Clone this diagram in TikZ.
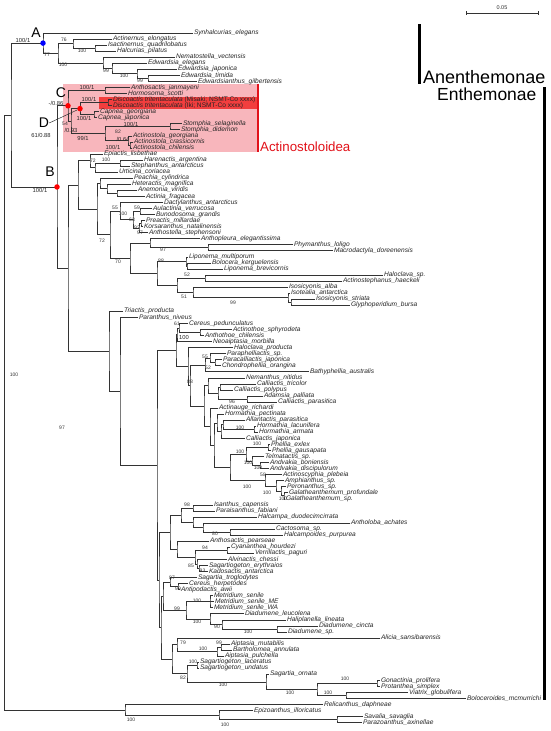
\documentclass[tikz,border=0pt]{standalone}
\usepackage{fontspec}
\setmainfont{Liberation Sans}
\usetikzlibrary{calc}
\definecolor{cladepink}{RGB}{248,182,188}
\definecolor{discored}{RGB}{242,62,62}
\definecolor{barred}{RGB}{226,18,26}
\tikzset{
         mybranch/.style={draw=black!80, line width=.7pt},
         mytip/.style={anchor=west, inner sep=.8pt, text=black!85, text height=4.7pt, text depth=1.4pt, font=\fontsize{6.6}{7}\selectfont\itshape},
         mysupp/.style={inner sep=0pt, text=black!80, font=\fontsize{5}{5}\selectfont},
         mypp/.style={inner sep=0pt, text=black!85, font=\fontsize{5.8}{6}\selectfont},
         myletter/.style={inner sep=0pt, font=\fontsize{14}{14}\selectfont},
         mygroup/.style={anchor=base west, inner sep=0pt, font=\fontsize{18}{18}\selectfont},
         mydot/.style={circle, inner sep=0pt, minimum size=5.5pt}
      }
% clade: name, x, first child, last child
\newcommand\clade[4]{%
  \path let \p1=(#3), \p2=(#4) in coordinate (#1) at (#2pt,{0.5*(\y1+\y2)});
  \draw[mybranch] (#3) -| (#1) |- (#4);}

\begin{document}
\begin{tikzpicture}[x=1pt, y=-1pt]
\fill[white] (0,0) rectangle (550,731);
\useasboundingbox (0,0) rectangle (550,731);
% Actinostoloidea box
\fill[cladepink] (63,84) rectangle (258,152);
\fill[discored] (99,97) rectangle (258,109);
\draw[barred, line width=2.5pt] (258,84) -- (258,152);
% tips
\foreach \i/\tx/\tn in {
 1/193/Synhalcurias\_elegans, 2/112/Actinernus\_elongatus, 3/107/Isactinernus\_quadrilobatus,
 4/116/Halcurias\_pilatus, 5/175/Nematostella\_vectensis, 6/147/Edwardsia\_elegans,
 7/177/Edwardsia\_japonica, 8/180/Edwardsia\_timida, 9/197/Edwardsianthus\_gilbertensis,
 10/130/Anthosactis\_janmayeni, 11/127/Hormosoma\_scotti,
 12/112/Discoactis tritentaculata {\upshape (Misaki; NSMT-Co xxxx)},
 13/112/Discoactis tritentaculata {\upshape (Iki; NSMT-Co xxxx)},
 14/99/Capnea\_georgiana, 15/97/Capnea\_japonica, 16/182/Stomphia\_selaginella,
 17/180/Stomphia\_didemon, 18/132/Actinostola\_georgiana, 19/133/Actinostola\_crassicornis,
 20/132/Actinostola\_chilensis, 21/103/Epiactis\_lisbethae, 22/143/Harenactis\_argentina,
 23/130/Stephanthus\_antarcticus, 24/118/Urticina\_coriacea, 25/133/Peachia\_cylindrica,
 26/131/Heteractis\_magnifica, 27/137/Anemonia\_viridis, 28/145/Actinia\_fragacea,
 29/163/Dactylanthus\_antarcticus, 30/152/Aulactinia\_verrucosa, 31/155/Bunodosoma\_grandis,
 32/145/Preactis\_millardae, 33/143/Korsaranthus\_natalinensis, 34/148/Anthostella\_stephensoni,
 35/200/Anthopleura\_elegantissima, 36/293/Phymanthus\_loligo, 37/333/Macrodactyla\_doreenensis,
 38/188/Liponema\_multiporum, 39/211/Bolocera\_kerguelensis, 40/223/Liponema\_brevicornis,
 41/383/Haloclava\_sp., 42/342/Actinostephanus\_haeckeli, 43/288/Isosicyonis\_alba,
 44/290/Isotealia\_antarctica, 45/315/Isosicyonis\_striata, 46/350/Glyphoperidium\_bursa,
 47/123/Triactis\_producta, 48/138/Paranthus\_niveus, 49/188/Cereus\_pedunculatus,
 50/232/Actinothoe\_sphyrodeta, 51/204/Anthothoe\_chilensis, 52/212/Neoaiptasia\_morbilla,
 53/233/Haloclava\_producta, 54/226/Paraphelliactis\_sp., 55/222/Paracalliactis\_japonica,
 56/221/Chondrophellia\_orangina, 57/309/Bathyphellia\_australis, 58/245/Nemanthus\_nitidus,
 59/256/Calliactis\_tricolor, 60/233/Calliactis\_polypus, 61/263/Adamsia\_palliata,
 62/277/Calliactis\_parasitica, 63/218/Actinauge\_richardi, 64/224/Hormathia\_pectinata,
 65/245/Allantactis\_parasitica, 66/256/Hormathia\_lacunifera, 67/258/Hormathia\_armata,
 68/245/Calliactis\_japonica, 69/270/Phellia\_exlex, 70/271/Phellia\_gausapata,
 71/264/Telmatactis\_sp., 72/269/Andvakia\_boniensis, 73/269/Andvakia\_discipulorum,
 74/282/Actinoscyphia\_plebeia, 75/284/Amphianthus\_sp., 76/286/Peronanthus\_sp.,
 77/288/Galatheanthemum\_profundale, 78/285/Galatheanthemum\_sp., 79/213/Isanthus\_capensis,
 80/215/Paraisanthus\_fabiani, 81/257/Halcampa\_duodecimcirrata, 82/350/Antholoba\_achates,
 83/275/Cactosoma\_sp., 84/283/Halcampoides\_purpurea, 85/209/Anthosactis\_pearseae,
 86/230/Cyananthea\_hourdezi, 87/254/Verrillactis\_paguri, 88/227/Alvinactis\_chessi,
 89/208/Sagartiogeton\_erythraios, 90/208/Kadosactis\_antarctica, 91/197/Sagartia\_troglodytes,
 92/188/Cereus\_herpetodes, 93/180/Antipodactis\_awii, 94/213/Metridium\_senile,
 95/214/Metridium\_senile\_ME, 96/213/Metridium\_senile\_WA, 97/244/Diadumene\_leucolena,
 98/286/Haliplanella\_lineata, 99/318/Diadumene\_cincta, 100/287/Diadumene\_sp.,
 101/380/Alicia\_sansibarensis, 102/230/Aiptasia\_mutabilis, 103/232/Bartholomea\_annulata,
 104/224/Aiptasia\_pulchella, 105/199/Sagartiogeton\_laceratus, 106/199/Sagartiogeton\_undatus,
 107/269/Sagartia\_ornata, 108/380/Gonactinia\_prolifera, 109/380/Protanthea\_simplex,
 110/408/Viatrix\_globulifera, 111/466/Boloceroides\_mcmurrichi, 112/323/Relicanthus\_daphneae,
 113/253/Epizoanthus\_illoricatus, 114/363/Savalia\_savaglia, 115/362/Parazoanthus\_axinellae}
 {\node[mytip] (t\i) at (\tx,{33+6.05*(\i-1)}) {\tn};}
% Anenthemonae
\clade{iha}{95}{t3}{t4}
\clade{act}{73}{t2}{iha}
\clade{ed4}{148}{t8}{t9}
\clade{ed3}{137}{t7}{ed4}
\clade{ed2}{112}{t6}{ed3}
\clade{ed1}{103}{t5}{ed2}
\clade{ane}{58}{act}{ed1}
\clade{nA}{43}{t1}{ane}
% Actinostoloidea
\clade{anh}{105}{t10}{t11}
\clade{dis}{108}{t12}{t13}
\clade{cap}{94}{t14}{t15}
\clade{nD}{80}{dis}{cap}
\clade{sto}{170}{t16}{t17}
\clade{acs2}{130}{t19}{t20}
\clade{acs1}{128}{t18}{acs2}
\clade{sta}{105}{sto}{acs1}
\clade{cd}{71}{nD}{sta}
\clade{nC}{68}{anh}{cd}
% Actinioidea
\clade{hst}{120}{t22}{t23}
\clade{hsu}{95}{hst}{t24}
\clade{epi}{90}{t21}{hsu}
\clade{ana}{117}{t27}{t28}
\clade{hea}{107}{t26}{ana}
\clade{pea}{100}{t25}{hea}
\clade{aub}{140}{t30}{t31}
\clade{pkk}{141}{t32}{t33}
\clade{pka}{139}{pkk}{t34}
\clade{abk}{133}{aub}{pka}
\clade{dab}{120}{t29}{abk}
\clade{phm}{208}{t36}{t37}
\clade{apm}{150}{t35}{phm}
\clade{lbb}{187}{t39}{t40}
\clade{lip}{186}{t38}{lbb}
\clade{hac}{205}{t41}{t42}
\clade{isg}{291}{t45}{t46}
\clade{isa}{288}{t44}{isg}
\clade{iso}{193}{t43}{isa}
\clade{hai}{177}{hac}{iso}
\clade{lhi}{157}{lip}{hai}
\clade{apl}{130}{apm}{lhi}
\clade{dkl}{110}{dab}{apl}
\clade{pdk}{97}{pea}{dkl}
\clade{nE}{78}{epi}{pdk}
% Metridioidea
\clade{at2}{200}{t50}{t51}
\clade{cpa}{179}{t49}{at2}
\clade{ga}{177}{cpa}{t52}
\clade{pc}{215}{t55}{t56}
\clade{pp}{210}{t54}{pc}
\clade{q1}{205}{pp}{t57}
\clade{ct}{220}{t59}{t60}
\clade{apc2}{247}{t61}{t62}
\clade{cp}{218}{ct}{apc2}
\clade{nc}{208}{t58}{cp}
\clade{hl}{254}{t66}{t67}
\clade{ah2}{223}{t65}{hl}
\clade{h3}{221}{ah2}{t68}
\clade{hpn}{217}{t64}{h3}
\clade{ph}{268}{t69}{t70}
\clade{av}{260}{t72}{t73}
\clade{ta}{252}{t71}{av}
\clade{pta}{246}{ph}{ta}
\clade{gal}{284}{t77}{t78}
\clade{pg}{281}{t76}{gal}
\clade{apg}{276}{t75}{pg}
\clade{aa}{265}{t74}{apg}
\clade{hb}{230}{pta}{aa}
\clade{ar}{214}{hpn}{hb}
\clade{ar2}{210}{t63}{ar}
\clade{cn}{204}{nc}{ar2}
\clade{q2}{190}{q1}{cn}
\clade{gb}{188}{t53}{q2}
\clade{m3}{176}{ga}{gb}
\clade{ip}{193}{t79}{t80}
\clade{cs}{230}{t83}{t84}
\clade{anc}{203}{t82}{cs}
\clade{hc}{193}{t81}{anc}
\clade{c1}{181}{ip}{hc}
\clade{cv}{227}{t86}{t87}
\clade{sk}{199}{t89}{t90}
\clade{alk}{197}{t88}{sk}
\clade{cva}{195}{cv}{alk}
\clade{apc}{177}{t85}{cva}
\clade{c0}{170}{c1}{apc}
\clade{ch}{178}{t92}{t93}
\clade{sc}{170}{t91}{ch}
\clade{met}{210}{t94}{t96}
\draw[mybranch] (met) |- (t95);
\clade{dcs}{277}{t99}{t100}
\clade{hd}{222}{t98}{dcs}
\clade{dd}{210}{t97}{hd}
\clade{md}{186}{met}{dd}
\clade{scm}{163}{sc}{md}
\clade{ai2}{221}{t102}{t103}
\clade{aip}{217}{ai2}{t104}
\clade{al}{177}{t101}{aip}
\clade{sg}{197}{t105}{t106}
\clade{gp}{377}{t108}{t109}
\clade{vb}{346}{t110}{t111}
\clade{gv}{317}{gp}{vb}
\clade{so}{266}{t107}{gv}
\clade{sgs}{187}{sg}{so}
\clade{als}{172}{al}{sgs}
\clade{d0}{161}{scm}{als}
\clade{m4}{159}{c0}{d0}
\clade{m2}{157}{m3}{m4}
\clade{m1}{120}{t48}{m2}
\clade{nM}{109}{t47}{m1}
\clade{nR}{68}{nE}{nM}
\clade{nB}{57}{nC}{nR}
% outgroup and root
\clade{sp}{337}{t114}{t115}
\clade{zo}{219}{t113}{sp}
\clade{rz}{125}{t112}{zo}
\clade{nAE}{11}{nA}{nB}
\clade{root}{4.5}{nAE}{rz}
% support values
\foreach \sx/\sy/\st [count=\j] in {
 64/40/76, 82/51/100, 47/55/77, 63/65/100, 106/71/99, 124/76/100, 140/81/99,
 65/124/54, 118/132/82,
 93/161/72, 106/160/100, 102/241/72, 115/208/55, 123/214/100, 137/208/59, 132/220/63,
 137/228/92, 140/233/97, 118/262/70, 163/250/97, 161/261/88, 187/275/52, 184/297/51,
 233/303/99, 177/324/61, 205/357/55, 208/368/52, 190/382/88, 232/402/96, 240/428/100,
 257/444/100, 240/452/100, 248/463/100, 258/468/100, 263/475/58, 247/487/100,
 267/493/100, 283/499/100, 187/505/98, 215/534/80, 205/548/94, 191/566/85, 202.5/570.5/93,
 172/578/87, 178/589/99, 197/601/100, 177/609/99, 197/622/100, 217/627/90, 248/632/100,
 183/643/79, 219/643/99, 203/649/100, 193/662/100, 183/678/82, 223/685/100, 345/679/100,
 290/693/100, 328/693/100, 131/720/100, 225/725/100, 14/375/100, 62/428/97}
 {\node[mysupp] (s\j) at (\sx,\sy) {\st};}
\node[mypp] (pA) at (23,40) {100/1};
\node[mypp] (pB) at (40,190) {100/1};
\node[mypp] (pAH) at (87,87) {100/1};
\node[mypp] (pC) at (56,103) {-/0.86};
\node[mypp] (pDis) at (89,99) {100/1};
\node[mypp] (pCap) at (84,118) {100/1};
\node[mypp] (pCD) at (71,130) {/0.93};
\node[mypp] (pD) at (41,135) {61/0.88};
\node[mypp] (pSto) at (131,124) {100/1};
\node[mypp] (pAcs) at (123,139) {/0.64};
\node[mypp] (pSta) at (83,138) {99/1};
\node[mypp] (pAc) at (113,147) {100/1};
\node[mypp] (pCa) at (184,337) {100};
% node marks
\node[mydot, fill=blue] (dA) at (nA) {};
\node[mydot, fill=red] (dB) at (nB) {};
\node[mydot, fill=red] (dC) at (nC) {};
\node[mydot, fill=red] (dD) at (nD) {};
\node[myletter] (lA) at (36,33) {A};
\node[myletter] (lB) at (50,172) {B};
\node[myletter] (lC) at (61,93) {C};
\node[myletter] (lD) at (44,123) {D};
\draw[black!80, line width=.5pt] (lD.east) -- (dD);
% groups
\draw[line width=3.2pt] (419.5,24) -- (419.5,84);
\draw[line width=3.2pt] (544.5,87) -- (544.5,700);
\node[mygroup] (lAne) at (423,83) {Anenthemonae};
\node[mygroup, font=\fontsize{17.5}{18}\selectfont] (lEnt) at (437,100.5) {Enthemonae};
\node[mygroup, text=barred, font=\fontsize{13.3}{14}\selectfont] (lAct) at (260,151) {Actinostoloidea};
% scale bar
\coordinate (sbl) at (466,13);
\coordinate (sbr) at (538,13);
\draw[mybranch] (sbl) -- (sbr);
\draw[mybranch] ([yshift=2pt]sbl) -- ([yshift=-2pt]sbl);
\draw[mybranch] ([yshift=2pt]sbr) -- ([yshift=-2pt]sbr);
\node[mysupp, font=\fontsize{5.5}{6}\selectfont] (sbt) at (502,8) {0.05};
\end{tikzpicture}
\end{document}
